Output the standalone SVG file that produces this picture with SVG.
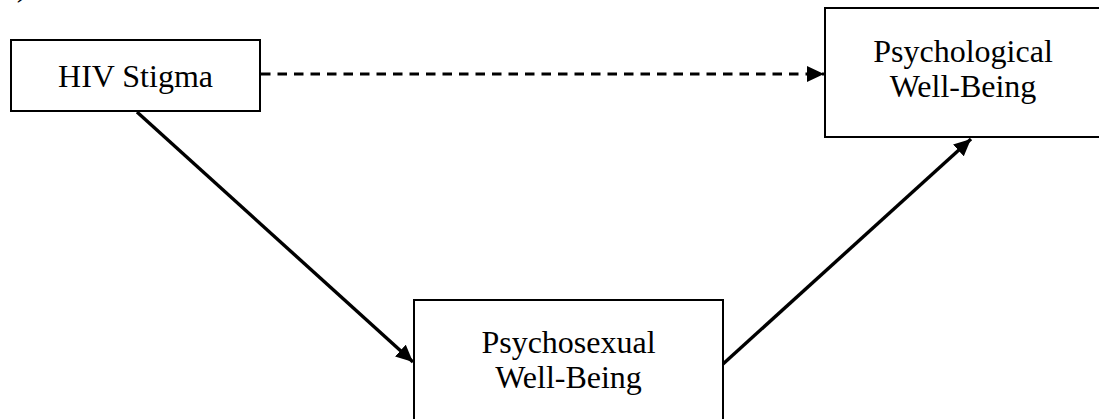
<svg xmlns="http://www.w3.org/2000/svg" width="1099" height="419" viewBox="0 0 1099 419">
  <style>
    .box { fill: #ffffff; stroke: #000000; stroke-width: 2; }
    .lbl { font-family: "Liberation Serif", "Times New Roman", serif; font-size: 32px; fill: #000000; text-anchor: middle; }
    .solid { stroke: #000000; stroke-width: 3.4; fill: none; }
    .dash { stroke: #000000; stroke-width: 2.8; fill: none; stroke-dasharray: 9.5 7; }
  </style>
  <defs>
    <marker id="ah" markerUnits="userSpaceOnUse" markerWidth="17" markerHeight="16" viewBox="0 0 16 15" refX="16" refY="7.5" orient="auto">
      <path d="M0,0 L16,7.5 L0,15 z" fill="#000000"/>
    </marker>
  </defs>
  <rect width="1099" height="419" fill="#ffffff"/>
  <text class="lbl" x="22" y="-4">)</text>

  <g id="connectors">
    <line class="dash" x1="261" y1="74" x2="824" y2="74" marker-end="url(#ah)"/>
    <line class="solid" x1="137" y1="112" x2="413" y2="362" marker-end="url(#ah)"/>
    <line class="solid" x1="723" y1="364" x2="971" y2="139" marker-end="url(#ah)"/>
  </g>

  <g id="hiv-stigma">
    <rect class="box" x="11" y="40" width="249" height="71"/>
    <text class="lbl" x="135.5" y="87">HIV Stigma</text>
  </g>

  <g id="psychological-well-being">
    <rect class="box" x="825" y="8" width="285" height="129"/>
    <text class="lbl" x="963" y="62">Psychological</text>
    <text class="lbl" x="963" y="97">Well-Being</text>
  </g>

  <g id="psychosexual-well-being">
    <rect class="box" x="414" y="300" width="309" height="130"/>
    <text class="lbl" x="568.5" y="353">Psychosexual</text>
    <text class="lbl" x="568.5" y="388">Well-Being</text>
  </g>
</svg>
